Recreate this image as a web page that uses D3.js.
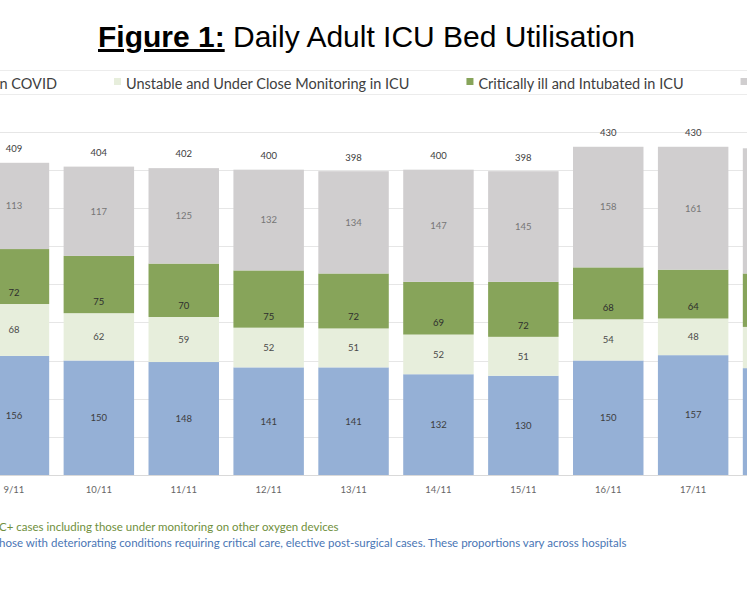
<!DOCTYPE html>
<html>
<head>
<meta charset="utf-8">
<script src="https://cdn.jsdelivr.net/npm/d3@7"></script>
<style>
  body { margin: 0; background: #fff; }
  svg { display: block; overflow: hidden; }
</style>
</head>
<body>
<script>
// daily adult ICU beds, stacked by patient type (18/11 only partly in frame)
const dates = ["9/11", "10/11", "11/11", "12/11", "13/11", "14/11", "15/11", "16/11", "17/11", "18/11"];
const nonCovid = [156, 150, 148, 141, 141, 132, 130, 150, 157, 140];
const unstable = [68, 62, 59, 52, 51, 52, 51, 54, 48, 54];
const intubated = [72, 75, 70, 75, 72, 69, 72, 68, 64, 70];
const available = [113, 117, 125, 132, 134, 147, 145, 158, 161, 164];
const seriesNames = ["Non COVID", "Unstable and Under Close Monitoring in ICU", "Critically ill and Intubated in ICU", "Available"];
const yTicks = [0, 50, 100, 150, 200, 250, 300, 350, 400, 450];
const footnotes = [
  "C+ cases including those under monitoring on other oxygen devices",
  "hose with deteriorating conditions requiring critical care, elective post-surgical cases. These proportions vary across hospitals"
];

const W = 747, H = 598;
const colors = ["#95b0d6", "#e7eedc", "#87a45a", "#d0cecf"];
const labelColors = ["#3d3d3d", "#4a4a4a", "#2e2e2e", "#767676"];
const sansFont = "Lato, 'Open Sans', sans-serif";

const svg = d3.select("body").append("svg")
  .attr("width", W)
  .attr("height", H);

// title
const title = svg.append("text")
  .attr("x", 98)
  .attr("y", 47)
  .style("font-family", "'Liberation Sans', Arial, sans-serif")
  .style("font-size", "30px")
  .style("fill", "#000");
title.append("tspan")
  .style("font-weight", "bold")
  .style("text-decoration", "underline")
  .text("Figure 1:");
title.append("tspan").text(" Daily Adult ICU Bed Utilisation");

// legend box edges
svg.selectAll(".legend-edge")
  .data([70, 94])
  .enter().append("line")
  .attr("x1", 0).attr("x2", W)
  .attr("y1", d => d + 0.5).attr("y2", d => d + 0.5)
  .style("stroke", "#ececec")
  .style("stroke-width", 1);

const data = dates.map((d, i) => ({
  date: d,
  values: [nonCovid[i], unstable[i], intubated[i], available[i]]
}));

const x = d3.scaleBand()
  .domain(dates)
  .range([-28.5, -28.5 + 84.9 * dates.length])
  .paddingInner(0.17)
  .paddingOuter(0.085);

const y = d3.scaleLinear()
  .domain([0, 450])
  .range([475, 131.5]);

const inFrame = d => {
  const cx = x(d) + x.bandwidth() / 2;
  return cx > 0 && cx < W;
};

// gridlines
svg.selectAll(".grid")
  .data(yTicks)
  .enter().append("line")
  .attr("class", "grid")
  .attr("x1", 0).attr("x2", W)
  .attr("y1", d => Math.round(y(d)) + 0.5)
  .attr("y2", d => Math.round(y(d)) + 0.5)
  .style("stroke", d => d === 0 ? "#d9d9d9" : "#e6e6e6")
  .style("stroke-width", 1);

const stack = d3.stack()
  .keys([0, 1, 2, 3])
  .value((d, k) => d.values[k]);
const layers = stack(data);

const layer = svg.selectAll(".layer")
  .data(layers)
  .enter().append("g")
  .attr("class", "layer")
  .style("fill", (d, i) => colors[i]);

layer.selectAll("rect")
  .data(d => d)
  .enter().append("rect")
  .attr("x", d => x(d.data.date))
  .attr("width", x.bandwidth())
  .attr("y", d => y(d[1]))
  .attr("height", d => y(d[0]) - y(d[1]));

// segment labels: green ones sit near the base of their segment
layers.forEach((ly, k) => {
  svg.append("g").selectAll("text")
    .data(ly.filter(d => inFrame(d.data.date)))
    .enter().append("text")
    .attr("x", d => x(d.data.date) + x.bandwidth() / 2)
    .attr("y", d => k === 2 ? y(d[0]) - 11.5 : (y(d[0]) + y(d[1])) / 2)
    .attr("dy", "0.35em")
    .attr("text-anchor", "middle")
    .style("font-family", sansFont)
    .style("font-size", "9.5px")
    .style("fill", labelColors[k])
    .text(d => d.data.values[k]);
});

// totals above bars
svg.append("g").selectAll("text")
  .data(data.filter(d => inFrame(d.date)))
  .enter().append("text")
  .attr("x", d => x(d.date) + x.bandwidth() / 2)
  .attr("y", d => y(d3.sum(d.values)) - 14)
  .attr("dy", "0.35em")
  .attr("text-anchor", "middle")
  .style("font-family", sansFont)
  .style("font-size", "9.5px")
  .style("fill", "#3d3d3d")
  .text(d => d3.sum(d.values));

// x axis labels
const xAxis = svg.append("g")
  .attr("transform", "translate(0,475)")
  .call(d3.axisBottom(x).tickSize(0).tickPadding(11));
xAxis.select(".domain").remove();
xAxis.selectAll(".tick").filter(d => !inFrame(d)).remove();
xAxis.selectAll("text")
  .style("font-family", sansFont)
  .style("font-size", "9.5px")
  .style("fill", "#666");

// legend, laid out left to right from measured text widths
const legend = svg.append("g")
  .style("font-family", sansFont)
  .style("font-size", "14.5px");
let lx = 0;
seriesNames.forEach((name, i) => {
  const t = legend.append("text")
    .attr("y", 88.5)
    .style("fill", "#404040")
    .text(name);
  const tw = t.node().getComputedTextLength();
  // first entry is anchored so that its text ends where the reference crop shows it
  if (i === 0) lx = 57 - tw - 12;
  t.attr("x", lx + 12);
  legend.append("rect")
    .attr("x", lx).attr("y", 78)
    .attr("width", 7).attr("height", 7)
    .style("fill", colors[i]);
  if (lx + 12 > W) t.remove();
  lx += 12 + tw + 57;
});

// footnotes
svg.selectAll(".foot")
  .data(footnotes)
  .enter().append("text")
  .attr("class", "foot")
  .attr("x", -1)
  .attr("y", (d, i) => 531 + i * 15.5)
  .style("font-family", sansFont)
  .style("font-size", "11.5px")
  .style("fill", (d, i) => i === 0 ? "#6f8f3c" : "#4a76b5")
  .text(d => d);
</script>
</body>
</html>
